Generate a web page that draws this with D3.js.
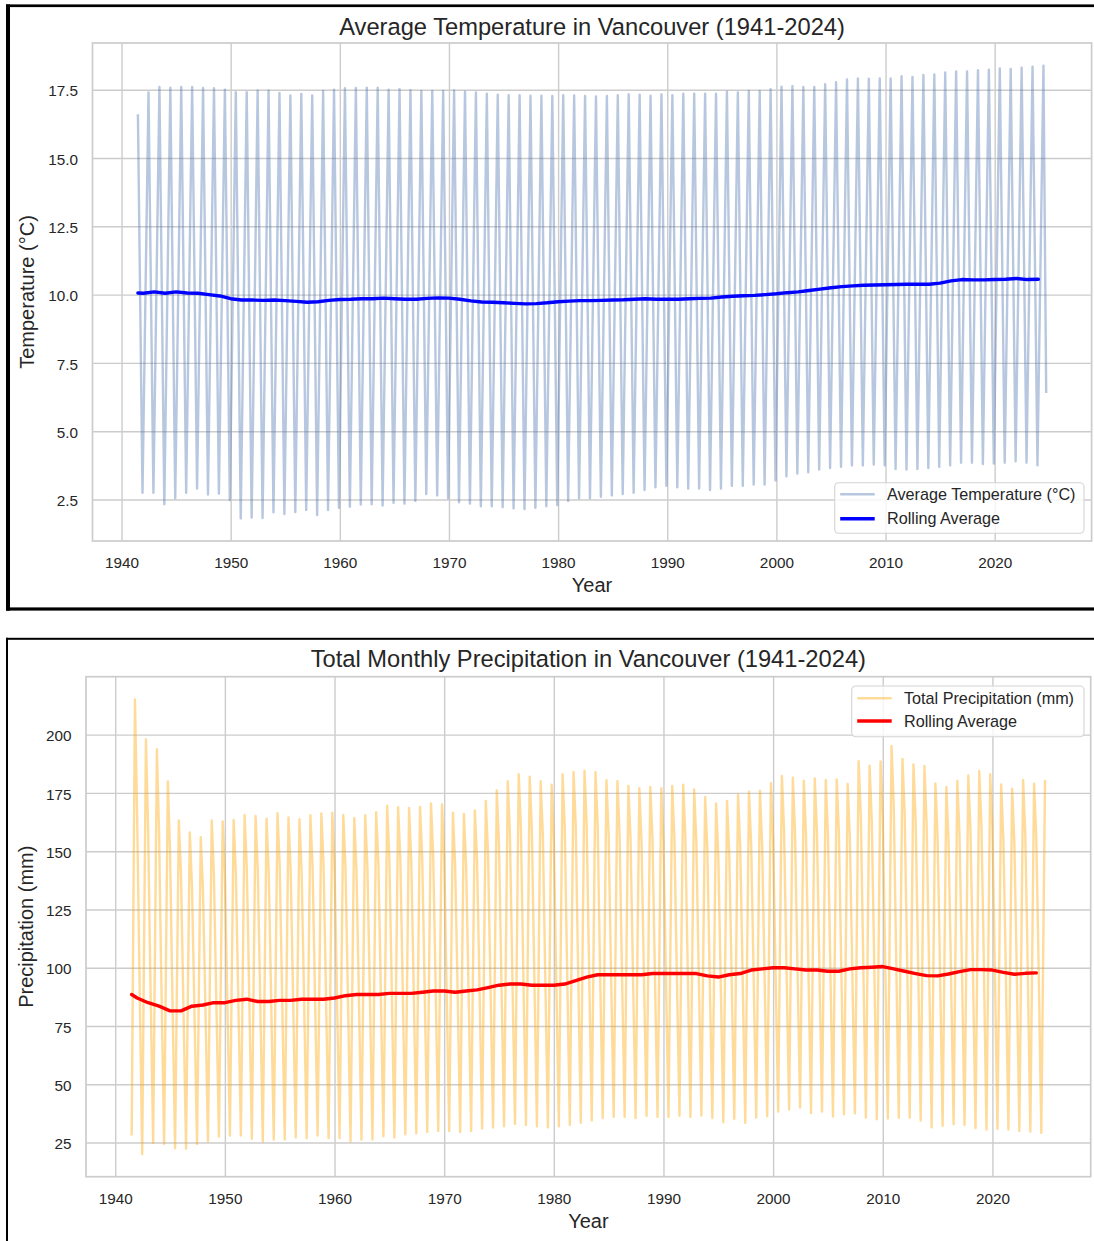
<!DOCTYPE html>
<html>
<head>
<meta charset="utf-8">
<script src="https://cdn.jsdelivr.net/npm/d3@7"></script>
<style>
  html, body { margin: 0; padding: 0; background: #ffffff; }
  svg { display: block; font-family: "Liberation Sans", Arial, Helvetica, sans-serif; }
</style>
</head>
<body>
<svg id="chart" width="1094" height="1241"></svg>
<script>
// ---------------------------------------------------------------
// Vancouver monthly climate record, 1941-2024
// ---------------------------------------------------------------
const firstYear = 1941;
const seriesStart = 1941.5;          // records begin mid-1941

// Summer (July) mean temperature, °C, 1941..2024
const tempSummerPeak = [
  16.60, 17.40, 17.60, 17.57, 17.60, 17.60, 17.56, 17.55, 17.50,          // 1941-1949
  17.41, 17.41, 17.47, 17.47, 17.38, 17.29, 17.34, 17.29, 17.45, 17.50,   // 1950s
  17.55, 17.56, 17.57, 17.57, 17.50, 17.52, 17.48, 17.45, 17.45, 17.45,   // 1960s
  17.47, 17.43, 17.40, 17.35, 17.32, 17.30, 17.30, 17.28, 17.28, 17.27,   // 1970s
  17.30, 17.29, 17.27, 17.25, 17.27, 17.30, 17.33, 17.32, 17.28, 17.33,   // 1980s
  17.30, 17.35, 17.35, 17.35, 17.35, 17.43, 17.40, 17.45, 17.45, 17.52,   // 1990s
  17.61, 17.63, 17.60, 17.60, 17.70, 17.77, 17.87, 17.91, 17.90, 17.91,   // 2000s
  17.91, 17.99, 17.97, 18.04, 18.06, 18.13, 18.17, 18.17, 18.21, 18.23,   // 2010s
  18.28, 18.26, 18.30, 18.34, 18.38                                       // 2020-2024
];
// Winter mean temperature at the turn of each year, °C, 1941..2023
const tempWinterLow = [
  2.75, 2.75, 2.33, 2.55, 2.75, 2.90, 2.68, 2.72, 2.48,                   // 1941-1949
  1.81, 1.84, 1.82, 2.03, 1.97, 2.04, 2.12, 1.93, 2.12, 2.20,             // 1950s
  2.24, 2.32, 2.33, 2.28, 2.38, 2.35, 2.45, 2.70, 2.65, 2.55,             // 1960s
  2.40, 2.35, 2.25, 2.25, 2.22, 2.18, 2.15, 2.20, 2.25, 2.30,             // 1970s
  2.45, 2.55, 2.55, 2.60, 2.65, 2.70, 2.75, 2.85, 2.95, 3.00,             // 1980s
  2.95, 2.90, 2.90, 2.85, 2.90, 3.00, 3.00, 3.05, 3.05, 3.20,             // 1990s
  3.35, 3.45, 3.50, 3.60, 3.65, 3.70, 3.75, 3.75, 3.78, 3.75,             // 2000s
  3.62, 3.60, 3.62, 3.65, 3.70, 3.75, 3.85, 3.85, 3.80, 3.82,             // 2010s
  3.85, 3.90, 3.85, 3.75                                                  // 2020-2023
];
const tempLastDate = 2024.72;
const tempLastValue = 6.4;

// Rolling mean temperature, °C: mid-1941, then 1942..2024
const tempRolling = [
  10.06,
  10.05, 10.10, 10.05, 10.10, 10.06, 10.05, 10.00, 9.95,                  // 1942-1949
  9.85, 9.80, 9.80, 9.79, 9.80, 9.78, 9.75, 9.72, 9.74, 9.79,             // 1950s
  9.82, 9.83, 9.85, 9.85, 9.87, 9.85, 9.83, 9.83, 9.86, 9.88,             // 1960s
  9.87, 9.83, 9.77, 9.73, 9.72, 9.70, 9.68, 9.66, 9.67, 9.70,             // 1970s
  9.74, 9.76, 9.78, 9.78, 9.79, 9.80, 9.81, 9.83, 9.85, 9.83,             // 1980s
  9.83, 9.83, 9.85, 9.86, 9.87, 9.91, 9.94, 9.96, 9.97, 10.00,            // 1990s
  10.03, 10.07, 10.10, 10.15, 10.20, 10.25, 10.29, 10.32, 10.34, 10.35,   // 2000s
  10.36, 10.37, 10.38, 10.38, 10.38, 10.42, 10.50, 10.55, 10.54, 10.54,   // 2010s
  10.55, 10.56, 10.59, 10.55, 10.56                                       // 2020-2024
];

// Autumn (November) peak precipitation, mm, 1941..2024
const precipAutumnPeak = [
  215.1, 198.0, 193.7, 179.9, 163.2, 158.0, 156.0, 163.2, 162.8,          // 1941-1949
  163.4, 165.5, 165.1, 163.9, 166.3, 164.5, 163.7, 165.4, 166.2, 166.5,   // 1950s
  165.5, 164.2, 165.4, 166.7, 169.5, 168.9, 168.5, 169.0, 170.5, 170.0,   // 1960s
  166.5, 166.0, 167.5, 171.5, 176.0, 180.0, 183.0, 182.0, 180.0, 178.5,   // 1970s
  183.0, 184.0, 184.5, 184.0, 180.5, 180.0, 178.0, 177.0, 177.5, 177.0,   // 1980s
  178.0, 178.5, 176.5, 173.3, 170.5, 171.6, 174.2, 175.5, 175.9, 179.2,   // 1990s
  182.3, 181.5, 180.2, 181.2, 180.6, 180.8, 178.8, 188.6, 186.7, 188.5,   // 2000s
  195.1, 189.6, 187.2, 186.6, 179.1, 177.5, 180.2, 182.5, 184.4, 183.0,   // 2010s
  178.6, 176.8, 180.6, 178.9, 180.5                                       // 2020-2024
];
// Summer (July) low precipitation, mm, 1941..2024
const precipSummerLow = [
  28.0, 20.1, 24.8, 24.5, 22.6, 22.4, 24.4, 25.5, 27.6,                   // 1941-1949
  28.0, 28.0, 26.6, 25.5, 26.3, 26.3, 27.2, 26.9, 28.0, 26.9,             // 1950s
  26.9, 25.5, 26.3, 26.3, 27.7, 27.2, 28.5, 29.0, 29.5, 30.0,             // 1960s
  30.0, 29.5, 30.0, 31.0, 31.5, 32.0, 33.0, 32.5, 32.0, 31.5,             // 1970s
  32.0, 32.5, 33.5, 34.5, 35.5, 36.0, 36.0, 35.5, 36.5, 36.0,             // 1980s
  36.0, 36.5, 36.0, 36.6, 35.5, 33.7, 35.2, 33.5, 35.7, 36.3,             // 1990s
  38.3, 39.2, 40.0, 37.7, 38.3, 36.2, 37.2, 37.5, 35.7, 35.0,             // 2000s
  35.3, 35.6, 35.6, 34.4, 31.5, 32.2, 32.9, 32.5, 31.2, 30.6,             // 2010s
  30.9, 30.6, 30.0, 29.7, 29.2                                            // 2020-2024
];
// January precipitation following each autumn peak, mm (Jan 1942 .. Jan 2024)
const precipJanuary = [
  165, 160, 158, 150, 140, 135, 134, 140, 140,                            // after 1941-1949
  141, 143, 142, 141, 144, 142, 141, 143, 144, 144,                       // after 1950s
  143, 142, 143, 145, 147, 147, 146, 147, 148, 148,                       // after 1960s
  144, 144, 146, 149, 153, 157, 160, 159, 157, 155,                       // after 1970s
  160, 161, 161, 161, 157, 157, 155, 154, 155, 154,                       // after 1980s
  155, 156, 154, 151, 148, 149, 152, 153, 153, 156,                       // after 1990s
  159, 158, 157, 158, 157, 158, 156, 165, 163, 165,                       // after 2000s
  170, 166, 163, 162, 156, 154, 157, 159, 161, 160,                       // after 2010s
  155, 154, 157, 156                                                      // after 2020-2023
];
// March precipitation following each autumn peak, mm (Mar 1942 .. Mar 2024)
const precipMarch = [
  110, 105, 104, 100, 96, 95, 96, 98, 99,                                 // after 1941-1949
  100, 101, 100, 99, 101, 100, 100, 101, 102, 102,                        // after 1950s
  101, 101, 102, 103, 104, 104, 104, 104, 105, 105,                       // after 1960s
  104, 104, 105, 106, 108, 110, 111, 111, 110, 109,                       // after 1970s
  111, 112, 112, 112, 111, 110, 110, 109, 110, 110,                       // after 1980s
  110, 110, 109, 108, 107, 108, 109, 110, 110, 112,                       // after 1990s
  113, 113, 112, 113, 113, 113, 112, 117, 116, 117,                       // after 2000s
  120, 118, 117, 116, 113, 112, 114, 115, 116, 115,                       // after 2010s
  113, 112, 114, 113                                                      // after 2020-2023
];
// Rolling mean precipitation, mm: mid-1941, then 1942..2024
const precipRolling = [
  88.5,
  87.0, 85.0, 83.5, 81.5, 81.5, 83.5, 84.0, 85.0,                         // 1942-1949
  85.0, 86.0, 86.5, 85.5, 85.5, 86.0, 86.0, 86.5, 86.5, 86.5,             // 1950s
  87.0, 88.0, 88.5, 88.5, 88.5, 89.0, 89.0, 89.0, 89.5, 90.0,             // 1960s
  90.0, 89.5, 90.0, 90.5, 91.5, 92.5, 93.0, 93.0, 92.5, 92.5,             // 1970s
  92.5, 93.0, 94.5, 96.0, 97.0, 97.0, 97.0, 97.0, 97.0, 97.5,             // 1980s
  97.5, 97.5, 97.5, 97.5, 96.5, 96.0, 97.0, 97.5, 99.0, 99.5,             // 1990s
  100.0, 100.0, 99.5, 99.0, 99.0, 98.5, 98.5, 99.5, 100.0, 100.2,         // 2000s
  100.5, 99.5, 98.5, 97.5, 96.6, 96.5, 97.3, 98.3, 99.2, 99.2,            // 2010s
  99.0, 98.0, 97.2, 97.6, 97.8                                            // 2020-2024
];

const xTickYears = [1940, 1950, 1960, 1970, 1980, 1990, 2000, 2010, 2020];
const tempTicks = [2.5, 5.0, 7.5, 10.0, 12.5, 15.0, 17.5];
const precipTicks = [25, 50, 75, 100, 125, 150, 175, 200];

// ---------------------------------------------------------------
// Build monthly point sequences (decimal-year dates)
// ---------------------------------------------------------------
const tempSeries = [];
tempSummerPeak.forEach((v, i) => {
  const yr = firstYear + i;
  tempSeries.push({ t: i === 0 ? seriesStart : yr + 0.47, v });
  if (i < tempWinterLow.length) tempSeries.push({ t: yr + 0.92, v: tempWinterLow[i] });
});
tempSeries.push({ t: tempLastDate, v: tempLastValue });

const precipSeries = [];
precipAutumnPeak.forEach((peak, i) => {
  const yr = firstYear + i;
  if (i > 0) {
    precipSeries.push({ t: yr, v: precipJanuary[i - 1] });
    precipSeries.push({ t: yr + 0.17, v: precipMarch[i - 1] });
  }
  precipSeries.push({ t: i === 0 ? seriesStart : yr + 0.46, v: precipSummerLow[i] });
  precipSeries.push({ t: yr + 0.8, v: peak });
});

const rollingDates = values => values.map((v, i) => ({ t: i === 0 ? seriesStart : firstYear + i, v }));

// ---------------------------------------------------------------
// Drawing
// ---------------------------------------------------------------
const svg = d3.select("#chart");
const INK = "#262626";
const GRID = "#cccccc";

// screenshot frames around each figure
const frames = svg.append("g").attr("fill", "#000");
frames.append("rect").attr("x", 6).attr("y", 4.4).attr("width", 1088).attr("height", 2.7);
frames.append("rect").attr("x", 6).attr("y", 4.4).attr("width", 4).attr("height", 606.3);
frames.append("rect").attr("x", 6).attr("y", 607.4).attr("width", 1088).attr("height", 3.2);
frames.append("rect").attr("x", 6).attr("y", 637.8).attr("width", 1088).attr("height", 2);
frames.append("rect").attr("x", 6).attr("y", 637.8).attr("width", 2).attr("height", 604);

function padded(ext) {
  const p = (ext[1] - ext[0]) * 0.05;
  return [ext[0] - p, ext[1] + p];
}

function drawPanel(cfg) {
  const { left, right, top, bottom } = cfg.plot;
  const x = d3.scaleLinear().domain(padded(d3.extent(cfg.series, d => d.t))).range([left, right]);
  const y = d3.scaleLinear().domain(padded(d3.extent(cfg.series, d => d.v))).range([bottom, top]);
  const g = svg.append("g");

  // x grid + labels
  const gx = g.append("g").attr("transform", `translate(0,${bottom})`)
    .call(d3.axisBottom(x).tickValues(xTickYears).tickFormat(d3.format("d"))
      .tickSize(-(bottom - top)).tickPadding(16.5));
  // y grid + labels
  const gy = g.append("g").attr("transform", `translate(${left},0)`)
    .call(d3.axisLeft(y).tickValues(cfg.yTicks).tickFormat(cfg.yFormat)
      .tickSize(-(right - left)).tickPadding(14.5));
  [gx, gy].forEach(ax => {
    ax.select(".domain").remove();
    ax.selectAll(".tick line").attr("stroke", GRID).attr("stroke-width", 1.4);
    ax.selectAll(".tick text").attr("fill", INK).attr("font-size", 15.3)
      .attr("font-family", "Liberation Sans, Arial, sans-serif");
  });
  gy.selectAll(".tick text").attr("dy", "0.4em");

  // plot frame
  g.append("rect").attr("x", left).attr("y", top)
    .attr("width", right - left).attr("height", bottom - top)
    .attr("fill", "none").attr("stroke", GRID).attr("stroke-width", 1.7);

  const line = d3.line().x(d => x(d.t)).y(d => y(d.v));

  g.append("path").datum(cfg.series)
    .attr("d", line).attr("fill", "none")
    .attr("stroke", cfg.rawColor).attr("stroke-opacity", 0.4)
    .attr("stroke-width", 2.4).attr("stroke-linejoin", "round");

  g.append("path").datum(cfg.rolling)
    .attr("d", line).attr("fill", "none")
    .attr("stroke", cfg.rollColor).attr("stroke-width", 3.4)
    .attr("stroke-linejoin", "round").attr("stroke-linecap", "round");

  // titles
  g.append("text").attr("x", (left + right) / 2).attr("y", cfg.titleY)
    .attr("text-anchor", "middle").attr("fill", INK).attr("font-size", 23.7)
    .text(cfg.title);
  g.append("text").attr("x", (left + right) / 2).attr("y", cfg.xLabelY)
    .attr("text-anchor", "middle").attr("fill", INK).attr("font-size", 20)
    .text("Year");
  g.append("text")
    .attr("transform", `translate(${cfg.yLabelX},${(top + bottom) / 2}) rotate(-90)`)
    .attr("text-anchor", "middle").attr("fill", INK).attr("font-size", 20)
    .text(cfg.yLabel);

  // legend
  const L = cfg.legend;
  const lg = g.append("g").attr("transform", `translate(${L.x},${L.y})`);
  lg.append("rect").attr("width", L.w).attr("height", L.h).attr("rx", 4)
    .attr("fill", "rgba(255,255,255,0.8)").attr("stroke", "#d4d4d4").attr("stroke-width", 1.1);
  const entries = [
    { label: cfg.rawLabel, color: cfg.rawColor, opacity: 0.4, width: 2.4 },
    { label: "Rolling Average", color: cfg.rollColor, opacity: 1, width: 3.4 }
  ];
  entries.forEach((e, i) => {
    const ry = L.rows[i];
    lg.append("line").attr("x1", 5.5).attr("x2", 40).attr("y1", ry).attr("y2", ry)
      .attr("stroke", e.color).attr("stroke-opacity", e.opacity).attr("stroke-width", e.width);
    lg.append("text").attr("x", 52.3).attr("y", ry).attr("dy", "0.35em")
      .attr("fill", INK).attr("font-size", 16.2).text(e.label);
  });
}

drawPanel({
  plot: { left: 92.5, right: 1091.6, top: 43, bottom: 541 },
  series: tempSeries,
  rolling: rollingDates(tempRolling),
  yTicks: tempTicks,
  yFormat: d3.format(".1f"),
  rawColor: "#4c72b0",
  rollColor: "#0000ff",
  rawLabel: "Average Temperature (°C)",
  title: "Average Temperature in Vancouver (1941-2024)",
  titleY: 34.5,
  xLabelY: 592,
  yLabel: "Temperature (°C)",
  yLabelX: 34,
  legend: { x: 834.7, y: 482.7, w: 249.3, h: 50.6, rows: [11.5, 36] }
});

drawPanel({
  plot: { left: 86, right: 1090.7, top: 676.7, bottom: 1176.7 },
  series: precipSeries,
  rolling: rollingDates(precipRolling),
  yTicks: precipTicks,
  yFormat: d3.format("d"),
  rawColor: "#ffa500",
  rollColor: "#ff0000",
  rawLabel: "Total Precipitation (mm)",
  title: "Total Monthly Precipitation in Vancouver (1941-2024)",
  titleY: 667.3,
  xLabelY: 1228,
  yLabel: "Precipitation (mm)",
  yLabelX: 33,
  legend: { x: 851.7, y: 686, w: 232.3, h: 50.7, rows: [12.3, 35] }
});
</script>
</body>
</html>
